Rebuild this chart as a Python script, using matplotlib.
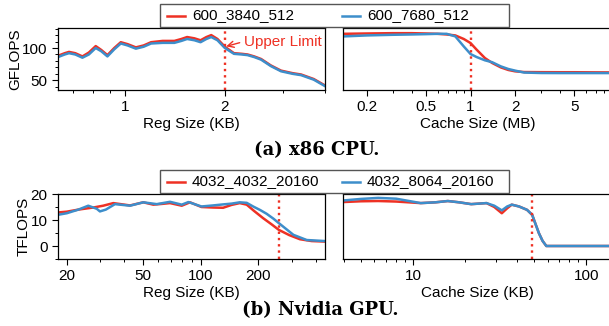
import matplotlib
matplotlib.use("Agg")
import matplotlib.pyplot as plt
from matplotlib.lines import Line2D
from matplotlib.patches import Rectangle
from matplotlib.ticker import FixedLocator, NullFormatter, LogLocator, MultipleLocator, NullLocator

plt.rcParams['font.family'] = ['Liberation Sans', 'DejaVu Sans']

RED = '#ee3124'
BLUE = '#3d8ecb'

# ---- (a) x86 CPU ----
cpu_labels = ['600_3840_512', '600_7680_512']
cpu_reg_x = [0.63, 0.66, 0.68, 0.71, 0.746, 0.78, 0.818, 0.85, 0.887, 0.93, 0.973, 1.02,
             1.08, 1.14, 1.20, 1.30, 1.41, 1.48, 1.54, 1.62, 1.69, 1.76, 1.82, 1.9, 2.0,
             2.13, 2.25, 2.34, 2.45, 2.57, 2.75, 2.95, 3.2, 3.39, 3.7, 4.0]
cpu_reg_red = [88, 92, 94, 92, 87, 93, 103, 97, 89, 100, 109, 106,
               101, 104, 109, 111, 111, 114, 117, 115, 112, 117, 120, 114, 102,
               92, 91, 90, 87, 83, 73, 65, 61, 59, 52, 42]
cpu_reg_blue = [86, 90, 92, 90, 85, 90, 100, 95, 87, 98, 107, 104,
                99, 102, 107, 108, 108, 111, 114, 112, 109, 114, 117, 112, 100,
                91, 90, 89, 86, 82, 72, 64, 60, 58, 51, 41]

cpu_cache_x = [0.14, 0.2, 0.3, 0.4, 0.5, 0.6, 0.69, 0.79, 0.9, 1.0, 1.1, 1.25, 1.4,
               1.6, 1.8, 2.0, 2.3, 3, 4, 5, 7, 9]
cpu_cache_red = [122, 122.5, 123, 123, 122.5, 122, 121, 119.5, 114, 107.7, 97.4, 84.5, 76.8,
                 70, 66, 63.9, 62.8, 62.6, 62.5, 62.5, 62.3, 62.2]
cpu_cache_blue = [118, 119.5, 120.5, 121, 121.5, 122, 122, 118, 102.5, 90.7, 86, 81, 78,
                  71.6, 67.5, 65, 62, 61.3, 61.2, 61.2, 61.2, 61.2]

# ---- (b) Nvidia GPU ----
gpu_labels = ['4032_4032_20160', '4032_8064_20160']
gpu_reg_x_red = [18, 20, 23, 27.5, 31, 35, 42.8, 50.2, 56.6, 63, 69.2, 79.7, 88, 101, 116,
                 131, 145, 160, 174, 190, 212, 235, 256, 290, 330, 380, 446]
gpu_reg_red = [12.9, 13.2, 14, 14.8, 15.5, 16.5, 15.6, 16.8, 15.9, 16.2, 16.5, 15.5, 16.8,
               15, 14.8, 14.7, 15.8, 16.5, 15.9, 13.5, 10.7, 8.3, 6.2, 4.2, 2.6, 1.9, 1.7]
gpu_reg_x_blue = [18, 20, 23, 25.9, 28.7, 29.8, 32, 35.7, 42.8, 50.2, 59, 69.2, 79.7, 86.3,
                  101, 116, 131, 145, 160, 174, 188, 205, 221, 240, 256, 280, 305, 358, 446]
gpu_reg_blue = [12, 12.6, 14, 15.5, 14.3, 13.3, 14, 16.1, 15.5, 16.8, 16.1, 17, 15.9, 16.9,
                15.2, 15.6, 16, 16.3, 16.8, 16.6, 15.2, 13.8, 12.4, 10.5, 8.8, 6.5, 4.3, 2.3, 1.9]

gpu_cache_x = [3.95, 5, 6.3, 8, 11.1, 13.5, 15.9, 18.5, 21.7, 26.6, 29.5, 32.6, 35, 37.2,
               41, 45.6, 48.8, 51, 53.4, 56, 58.9, 70, 100, 141]
gpu_cache_red = [16.9, 17.2, 17.3, 17.1, 16.5, 16.8, 17.3, 16.8, 16.1, 16.5, 15.0, 12.6, 14.5,
                 15.9, 15.2, 13.9, 12, 8.5, 4.9, 2, 0, 0, 0, 0]
gpu_cache_blue = [17.5, 18.1, 18.5, 18.2, 16.5, 16.8, 17.3, 16.8, 16.1, 16.5, 15.5, 13.7, 15.2,
                  15.9, 15.2, 13.9, 12, 8.5, 4.9, 2, 0, 0, 0, 0]

W, H = 609, 326
fig = plt.figure(figsize=(W / 100, H / 100), dpi=100)


def box(l, t, r, b):
    return [l / W, 1 - b / H, (r - l) / W, (b - t) / H]


ax1 = fig.add_axes(box(58, 28, 325, 90))
ax2 = fig.add_axes(box(343, 28, 612, 90))
ax3 = fig.add_axes(box(58, 194, 325, 259))
ax4 = fig.add_axes(box(343, 194, 612, 259))

LW = 1.8
FS = 11

ax1.plot(cpu_reg_x, cpu_reg_red, color=RED, lw=LW)
ax1.plot(cpu_reg_x, cpu_reg_blue, color=BLUE, lw=LW)
ax2.plot(cpu_cache_x, cpu_cache_red, color=RED, lw=LW)
ax2.plot(cpu_cache_x, cpu_cache_blue, color=BLUE, lw=LW)
ax3.plot(gpu_reg_x_red, gpu_reg_red, color=RED, lw=LW)
ax3.plot(gpu_reg_x_blue, gpu_reg_blue, color=BLUE, lw=LW)
ax4.plot(gpu_cache_x, gpu_cache_red, color=RED, lw=LW)
ax4.plot(gpu_cache_x, gpu_cache_blue, color=BLUE, lw=LW)

for ax in (ax1, ax2, ax3, ax4):
    ax.set_xscale('log')
    ax.xaxis.set_minor_locator(LogLocator(base=10, subs=range(2, 10)))
    ax.xaxis.set_minor_formatter(NullFormatter())
    ax.tick_params(which='major', direction='out', length=4.5, width=0.8, labelsize=FS, pad=3)
    ax.tick_params(which='minor', direction='out', length=2.5, width=0.7)
    for s in ax.spines.values():
        s.set_linewidth(0.9)

ax1.set_xlim(0.63, 4.0)
ax1.xaxis.set_major_locator(FixedLocator([1, 2]))
ax1.set_xticklabels(['1', '2'])
ax1.set_ylim(35, 131)
ax1.yaxis.set_major_locator(FixedLocator([50, 100]))
ax1.yaxis.set_minor_locator(MultipleLocator(10))
ax1.set_ylabel('GFLOPS', fontsize=FS, labelpad=0)
ax1.set_xlabel('Reg Size (KB)', fontsize=FS, labelpad=2)
ax1.axvline(2, color=RED, ls=':', lw=1.7)
ax1.annotate('Upper Limit', xy=(2.0, 102), xytext=(2.28, 110), color=RED, fontsize=FS,
             va='center', ha='left',
             arrowprops=dict(arrowstyle='->', color=RED, lw=1.0, shrinkA=1, shrinkB=1,
                             relpos=(0, 0.5)))

ax2.set_xlim(0.138, 9.0)
ax2.xaxis.set_major_locator(FixedLocator([0.2, 0.5, 1, 2, 5]))
ax2.set_xticklabels(['0.2', '0.5', '1', '2', '5'])
ax2.set_ylim(35, 131)
ax2.yaxis.set_major_locator(NullLocator())
ax2.yaxis.set_minor_locator(NullLocator())
ax2.set_xlabel('Cache Size (MB)', fontsize=FS, labelpad=2)
ax2.axvline(1, color=RED, ls=':', lw=1.7)

ax3.set_xlim(18, 446)
ax3.xaxis.set_major_locator(FixedLocator([20, 50, 100, 200]))
ax3.set_xticklabels(['20', '50', '100', '200'])
ax3.set_ylim(-5, 20)
ax3.yaxis.set_major_locator(FixedLocator([0, 10, 20]))
ax3.yaxis.set_minor_locator(MultipleLocator(5))
ax3.set_ylabel('TFLOPS', fontsize=FS, labelpad=0)
ax3.set_xlabel('Reg Size (KB)', fontsize=FS, labelpad=2)
ax3.axvline(256, color=RED, ls=':', lw=1.7)

ax4.set_xlim(3.95, 141)
ax4.xaxis.set_major_locator(FixedLocator([10, 100]))
ax4.set_xticklabels(['10', '100'])
ax4.set_ylim(-5, 20)
ax4.yaxis.set_major_locator(NullLocator())
ax4.yaxis.set_minor_locator(NullLocator())
ax4.set_xlabel('Cache Size (KB)', fontsize=FS, labelpad=2)
ax4.axvline(48.8, color=RED, ls=':', lw=1.7)


# legends: framed box with two fixed columns
def legend_row(labels, top, bottom):
    fig.patches.append(Rectangle((160 / W, 1 - bottom / H), (509 - 160) / W, (bottom - top) / H,
                                 transform=fig.transFigure, fill=True, facecolor='white',
                                 edgecolor='#555555', lw=1.0, zorder=5))
    yc = 1 - (top + bottom) / 2 / H
    for (x0, lab, col) in ((167, labels[0], RED), (342, labels[1], BLUE)):
        fig.lines.append(Line2D([x0 / W, (x0 + 18) / W], [yc, yc], transform=fig.transFigure,
                                color=col, lw=LW, zorder=6))
        fig.text((x0 + 25) / W, yc, lab, fontsize=FS, ha='left', va='center', zorder=6)


legend_row(cpu_labels, 4, 27)
legend_row(gpu_labels, 170, 193)

cap = dict(family=['DejaVu Serif'], fontweight='bold', fontsize=13,
           ha='center', va='center')
fig.text(317 / W, 1 - 150 / H, '(a) x86 CPU.', **cap)
fig.text(320 / W, 1 - 310 / H, '(b) Nvidia GPU.', **cap)

fig.savefig('out.png', dpi=100)
